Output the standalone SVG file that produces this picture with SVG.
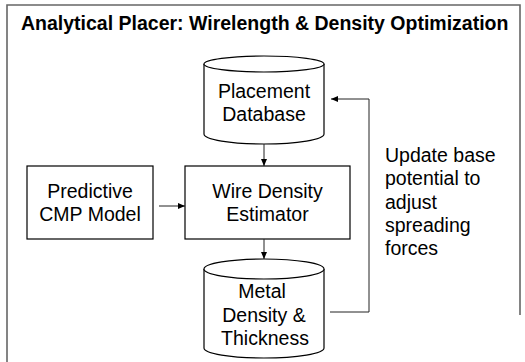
<svg xmlns="http://www.w3.org/2000/svg" width="525" height="362" viewBox="0 0 525 362">
<style>
text{font-family:"Liberation Sans",Arial,sans-serif;font-size:19.5px;fill:#000}
.c{text-anchor:middle}
.b{font-weight:bold}
.shape{fill:#fff;stroke:#000;stroke-width:1.2}
.frame{fill:none;stroke:#666;stroke-width:1.6}
.conn{fill:none;stroke:#222;stroke-width:1}
</style>
<defs>
<marker id="ah" markerWidth="8" markerHeight="8" refX="7" refY="4" orient="auto" markerUnits="userSpaceOnUse">
<path d="M0,1 L7,4 L0,7 Z" fill="#000"/>
</marker>
</defs>
<rect width="525" height="362" fill="#fff"/>
<path class="frame" d="M7,362 V5 H520 V315"/>
<text class="b" x="21" y="30">Analytical Placer: Wirelength &amp; Density Optimization</text>

<g id="placement-db">
<path class="shape" d="M204,64 V134 A60,10 0 0 0 324,134 V64"/>
<ellipse class="shape" cx="264" cy="64" rx="60" ry="8"/>
<text class="c" x="264" y="98">Placement</text>
<text class="c" x="264" y="121">Database</text>
</g>

<g id="cmp-model">
<rect class="shape" x="27" y="166" width="126" height="73"/>
<text class="c" x="90" y="198">Predictive</text>
<text class="c" x="90" y="221">CMP Model</text>
</g>

<g id="wire-density">
<rect class="shape" x="185" y="166" width="165" height="73"/>
<text class="c" x="267.5" y="198">Wire Density</text>
<text class="c" x="267.5" y="221">Estimator</text>
</g>

<g id="metal-db">
<path class="shape" d="M204,269 V348 A60,10 0 0 0 324,348 V269"/>
<ellipse class="shape" cx="264" cy="269" rx="60" ry="10"/>
<text class="c" x="262" y="298">Metal</text>
<text class="c" x="264" y="322">Density &amp;</text>
<text class="c" x="265" y="345">Thickness</text>
</g>

<g id="feedback-label">
<text x="385" y="162">Update base</text>
<text x="385" y="185">potential to</text>
<text x="385" y="209">adjust</text>
<text x="385" y="232">spreading</text>
<text x="385" y="255">forces</text>
</g>

<g id="connectors">
<line class="conn" x1="264" y1="144" x2="264" y2="166" marker-end="url(#ah)"/>
<line class="conn" x1="159" y1="206" x2="185" y2="206" marker-end="url(#ah)"/>
<line class="conn" x1="264" y1="239" x2="264" y2="259" marker-end="url(#ah)"/>
<polyline class="conn" points="330,312 369,312 369,99 331,99" marker-end="url(#ah)"/>
</g>
</svg>
